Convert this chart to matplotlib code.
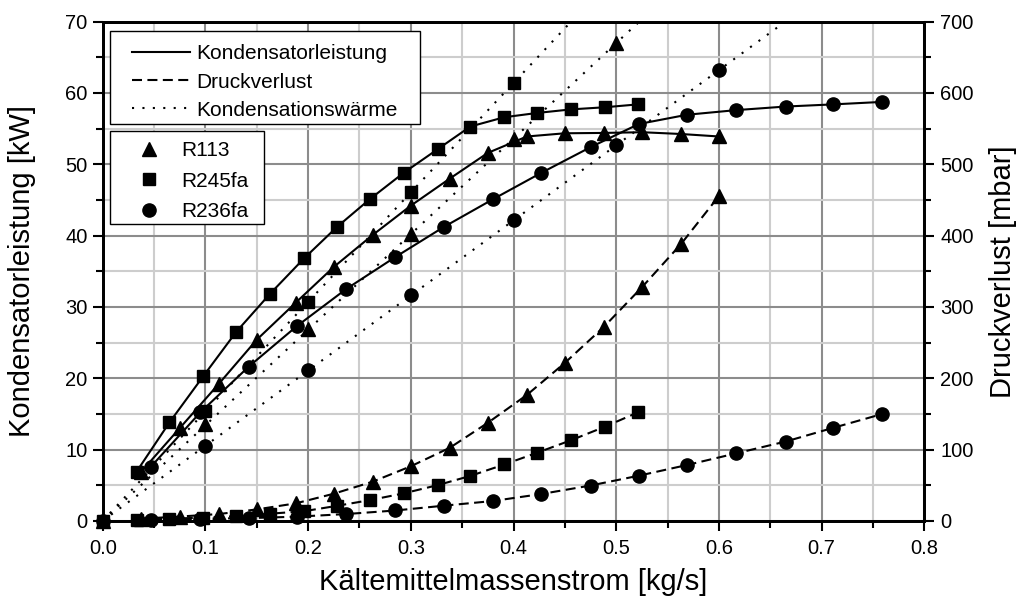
import matplotlib
matplotlib.use("Agg")
import matplotlib.pyplot as plt
from matplotlib.lines import Line2D
from matplotlib.patches import Rectangle
from matplotlib.ticker import MultipleLocator, FormatStrFormatter

plt.rcParams['font.family'] = ['Liberation Sans', 'DejaVu Sans']

# Kältemittelmassenstrom [kg/s], Kondensatorleistung [kW], Druckverlust [mbar]
m_r113 = [0.037, 0.075, 0.113, 0.150, 0.188, 0.225, 0.263, 0.300,
          0.338, 0.375, 0.413, 0.450, 0.488, 0.525, 0.563, 0.600]
q_r113 = [6.8, 13.0, 19.2, 25.4, 30.6, 35.6, 40.1, 44.2,
          48.0, 51.6, 53.9, 54.35, 54.4, 54.5, 54.25, 53.9]
dp_r113 = [3, 6, 9.5, 16, 24.5, 38, 55, 76.5,
           102.5, 137.5, 176.5, 221.5, 272, 327.5, 388, 455.5]

m_r245 = [0.033, 0.065, 0.098, 0.130, 0.163, 0.196, 0.228, 0.260,
          0.293, 0.326, 0.358, 0.391, 0.423, 0.456, 0.489, 0.521]
q_r245 = [6.9, 13.8, 20.3, 26.5, 31.85, 36.8, 41.2, 45.1,
          48.8, 52.1, 55.3, 56.6, 57.2, 57.7, 58.0, 58.4]
dp_r245 = [1, 3, 4.5, 6.5, 10, 13.5, 21, 29,
           38.5, 50, 63, 79, 95.5, 113, 132, 152]

m_r236 = [0.047, 0.095, 0.142, 0.189, 0.237, 0.285, 0.332, 0.380,
          0.427, 0.475, 0.522, 0.569, 0.617, 0.665, 0.711, 0.759]
q_r236 = [7.6, 15.2, 21.6, 27.3, 32.5, 37.0, 41.2, 45.1,
          48.8, 52.4, 55.65, 56.95, 57.6, 58.1, 58.4, 58.75]
dp_r236 = [1, 3, 3.8, 5.8, 9.5, 14.5, 21.2, 27.8,
           37.6, 49.5, 63.3, 78.3, 94.7, 111.2, 130.3, 149.8]

# Kondensationswärme (Massenstrom x Verdampfungsenthalpie) [kW]
mw_r113 = [0.0, 0.1, 0.2, 0.3, 0.4, 0.5]
qw_r113 = [0.0, 13.6, 26.9, 40.2, 53.6, 67.0]
mw_r245 = [0.0, 0.1, 0.2, 0.3, 0.4]
qw_r245 = [0.0, 15.4, 30.7, 46.05, 61.4]
mw_r236 = [0.0, 0.1, 0.2, 0.3, 0.4, 0.5, 0.6]
qw_r236 = [0.0, 10.5, 21.15, 31.7, 42.2, 52.7, 63.2]

fluids = ['R113', 'R245fa', 'R236fa']
curve_labels = ['Kondensatorleistung', 'Druckverlust', 'Kondensationswärme']

series = [
    ('R113', m_r113, q_r113, dp_r113, mw_r113, qw_r113),
    ('R245fa', m_r245, q_r245, dp_r245, mw_r245, qw_r245),
    ('R236fa', m_r236, q_r236, dp_r236, mw_r236, qw_r236),
]
marker_style = {'R113': ('^', 9.5), 'R245fa': ('s', 8.0), 'R236fa': ('o', 9.5)}

LW = 1.5
DASH = (0, (4.8, 2.6))
DOT = (0, (1, 4))

fig = plt.figure(figsize=(10.26, 6.04), dpi=100)
ax = fig.add_axes([0.1001, 0.1377, 0.8008, 0.8264])
ax2 = ax.twinx()

for name, m, q, dp, mw, qw in series:
    mk, ms = marker_style[name]
    # Kondensatorleistung
    ax.plot(m, q, color='k', lw=LW, ls='-', marker=mk, ms=ms,
            zorder=3, clip_on=False)
    # Kondensationswärme: Gerade durch den Ursprung
    ax.axline((mw[0], qw[0]), (mw[-1], qw[-1]), color='k', lw=LW,
              ls=DOT, zorder=2)
    ax.plot(mw, qw, ls='none', marker=mk, ms=ms, color='k',
            zorder=3, clip_on=False)
    # Druckverlust (rechte Achse)
    ax2.plot(m, dp, color='k', lw=LW, ls=DASH, marker=mk, ms=ms,
             zorder=3, clip_on=False)

ax.set_xlim(0, 0.8)
ax.set_ylim(0, 70)
ax2.set_ylim(0, 700)

ax.xaxis.set_major_locator(MultipleLocator(0.1))
ax.xaxis.set_minor_locator(MultipleLocator(0.05))
ax.xaxis.set_major_formatter(FormatStrFormatter('%.1f'))
ax.yaxis.set_major_locator(MultipleLocator(10))
ax.yaxis.set_minor_locator(MultipleLocator(5))
ax2.yaxis.set_major_locator(MultipleLocator(100))
ax2.yaxis.set_minor_locator(MultipleLocator(50))

ax.set_axisbelow(True)
ax.grid(which='major', color='#8c8c8c', lw=1.5)
ax.grid(which='minor', color='#cdcdcd', lw=1.5)

for a in (ax, ax2):
    for s in a.spines.values():
        s.set_linewidth(2.0)

ax.tick_params(which='both', direction='out', width=1.5, top=False,
               right=False, labelsize=14.5, colors='k')
ax.tick_params(which='major', length=7)
ax.tick_params(which='minor', length=4.7)
ax.tick_params(axis='x', pad=6)
ax.tick_params(axis='y', pad=4)
ax2.tick_params(which='both', direction='out', width=1.5, labelsize=14.5)
ax2.tick_params(which='major', length=7, pad=4.5)
ax2.tick_params(which='minor', length=4.7)

ax.set_xlabel('Kältemittelmassenstrom [kg/s]', fontsize=21)
ax.set_ylabel('Kondensatorleistung [kW]', fontsize=21)
ax2.set_ylabel('Druckverlust [mbar]', fontsize=21)
ax.xaxis.label.set_va('center')
ax.xaxis.set_label_coords(0.5, -0.1226)
ax.yaxis.label.set_va('center')
ax.yaxis.set_label_coords(-0.0982, 0.5)
ax2.yaxis.label.set_va('center')
ax2.yaxis.set_label_coords(1.0958, 0.5)

# Legenden mit eigenen Rahmen
for (x0, y0, w, h) in [(0.00889, 0.795, 0.3773, 0.187),
                       (0.00889, 0.5947, 0.1874, 0.187)]:
    ax2.add_patch(Rectangle((x0, y0), w, h, transform=ax2.transAxes,
                            facecolor='white', edgecolor='k', lw=1.0,
                            zorder=4, clip_on=False))

line_handles = [Line2D([], [], color='k', lw=LW, ls='-'),
                Line2D([], [], color='k', lw=LW, ls=DASH),
                Line2D([], [], color='k', lw=LW, ls=DOT)]
leg1 = ax2.legend(line_handles, curve_labels, loc='upper left',
                  bbox_to_anchor=(0.0353, 0.9546), borderaxespad=0,
                  borderpad=0, frameon=False, fontsize=15,
                  handlelength=2.8, handletextpad=0.3, labelspacing=0.44)
leg1.set_zorder(5)
ax2.add_artist(leg1)

marker_handles = [Line2D([], [], color='k', ls='none',
                         marker=marker_style[f][0], ms=marker_style[f][1])
                  for f in fluids]
leg2 = ax2.legend(marker_handles, fluids, loc='upper left',
                  bbox_to_anchor=(0.0313, 0.761), borderaxespad=0,
                  borderpad=0, frameon=False, fontsize=15,
                  handlelength=2.0, handletextpad=0.53, labelspacing=0.56)
leg2.set_zorder(5)

fig.savefig('out.png', dpi=100)
